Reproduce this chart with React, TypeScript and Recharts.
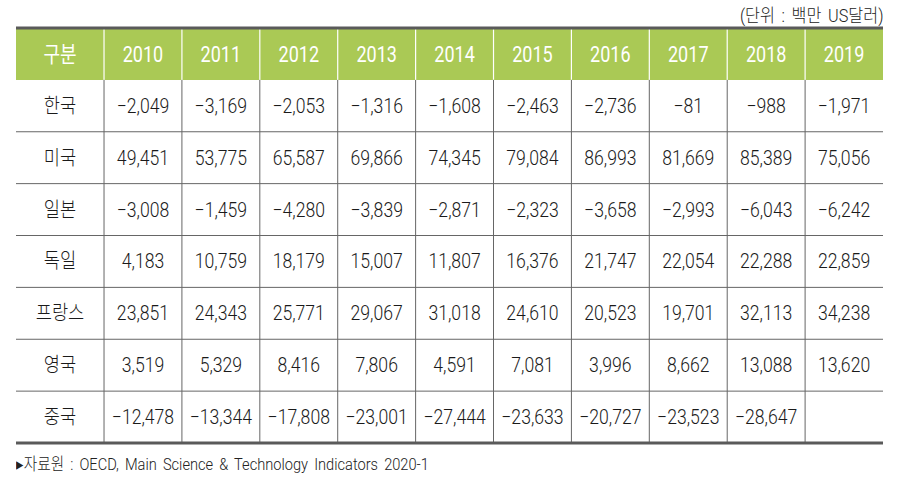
import React from 'react';
import { ScatterChart, Scatter, XAxis, YAxis, ReferenceLine, ReferenceArea } from 'recharts';

const years = ['2010', '2011', '2012', '2013', '2014', '2015', '2016', '2017', '2018', '2019'];
const countries = ['한국', '미국', '일본', '독일', '프랑스', '영국', '중국'];

const korea = [-2049, -3169, -2053, -1316, -1608, -2463, -2736, -81, -988, -1971];
const usa = [49451, 53775, 65587, 69866, 74345, 79084, 86993, 81669, 85389, 75056];
const japan = [-3008, -1459, -4280, -3839, -2871, -2323, -3658, -2993, -6043, -6242];
const germany = [4183, 10759, 18179, 15007, 11807, 16376, 21747, 22054, 22288, 22859];
const france = [23851, 24343, 25771, 29067, 31018, 24610, 20523, 19701, 32113, 34238];
const uk = [3519, 5329, 8416, 7806, 4591, 7081, 3996, 8662, 13088, 13620];
const china = [-12478, -13344, -17808, -23001, -27444, -23633, -20727, -23523, -28647, null];

const rows = [korea, usa, japan, germany, france, uk, china];

const headLabel = '구분';
const unitText = '(단위 : 백만 US달러)';
const sourceText = '▸자료원 : OECD, Main Science & Technology Indicators 2020-1';

// first column is a bit wider than the year columns
const LABEL_COL = -1.13;

const fmt = (v: number) => v.toLocaleString('en-US').replace('-', '−');

type Cell = { x: number; y: number; label: string; kind: 'head' | 'name' | 'value' };

const cells: Cell[] = [];
cells.push({ x: LABEL_COL / 2, y: 0.5, label: headLabel, kind: 'head' });
years.forEach((yr, i) => cells.push({ x: i + 0.5, y: 0.5, label: yr, kind: 'head' }));
countries.forEach((c, r) => {
  cells.push({ x: LABEL_COL / 2, y: r + 1.5, label: c, kind: 'name' });
  rows[r].forEach((v, i) => {
    if (v == null) return;
    cells.push({ x: i + 0.5, y: r + 1.5, label: fmt(v), kind: 'value' });
  });
});

const FONT = "Roboto, 'Noto Sans CJK KR', sans-serif";

const CellText = (props: any) => {
  const { cx, cy, payload } = props;
  const head = payload.kind === 'head';
  return (
    <text
      transform={`translate(${cx},${cy}) scale(${head ? 0.82 : 0.86},1)`}
      textAnchor="middle"
      dominantBaseline="central"
      fontFamily={FONT}
      fontWeight={head ? 400 : 300}
      fontSize={head ? 22 : 20.5}
      fill={head ? '#ffffff' : '#1a1a1a'}
    >
      {payload.label}
    </text>
  );
};

const dividers = years.map((_, i) => i);
const rowLines = [2, 3, 4, 5, 6, 7];

export default function App() {
  return (
    <div style={{ position: 'absolute', left: 0, top: 0, width: 902, height: 480, background: '#fff' }}>
      <div
        style={{
          position: 'absolute',
          right: 19,
          top: 1,
          fontFamily: FONT,
          fontWeight: 300,
          fontSize: 18,
          wordSpacing: 3,
          color: '#222',
          transform: 'scaleX(0.9)',
          transformOrigin: 'right center',
          whiteSpace: 'nowrap',
        }}
      >
        {unitText}
      </div>
      <ScatterChart width={902} height={480} margin={{ top: 28, right: 19, bottom: 37, left: 16 }}>
        <XAxis type="number" dataKey="x" domain={[LABEL_COL, 10]} hide />
        <YAxis type="number" dataKey="y" domain={[0, 8]} reversed hide width={0} />
        <ReferenceArea x1={LABEL_COL} x2={10} y1={0} y2={1} fill="#aac955" fillOpacity={1} stroke="none" />
        {dividers.map((d) => (
          <ReferenceLine
            key={`h${d}`}
            segment={[{ x: d, y: 0 }, { x: d, y: 1 }]}
            stroke="#ffffff"
            strokeWidth={1.2}
          />
        ))}
        {dividers.map((d) => (
          <ReferenceLine
            key={`b${d}`}
            segment={[{ x: d, y: 1 }, { x: d, y: 8 }]}
            stroke="#666666"
            strokeWidth={1}
          />
        ))}
        {rowLines.map((r) => (
          <ReferenceLine key={`r${r}`} y={r} stroke="#666666" strokeWidth={1} />
        ))}
        <ReferenceLine y={0} stroke="#5a5a5a" strokeWidth={3} />
        <ReferenceLine y={8} stroke="#5a5a5a" strokeWidth={3} />
        <Scatter data={cells} shape={CellText} isAnimationActive={false} />
      </ScatterChart>
      <div
        style={{
          position: 'absolute',
          left: 16,
          top: 450,
          fontFamily: FONT,
          fontWeight: 300,
          fontSize: 17,
          wordSpacing: 3,
          color: '#222',
          transform: 'scaleX(0.86)',
          transformOrigin: 'left center',
          whiteSpace: 'nowrap',
        }}
      >
        {sourceText}
      </div>
    </div>
  );
}
